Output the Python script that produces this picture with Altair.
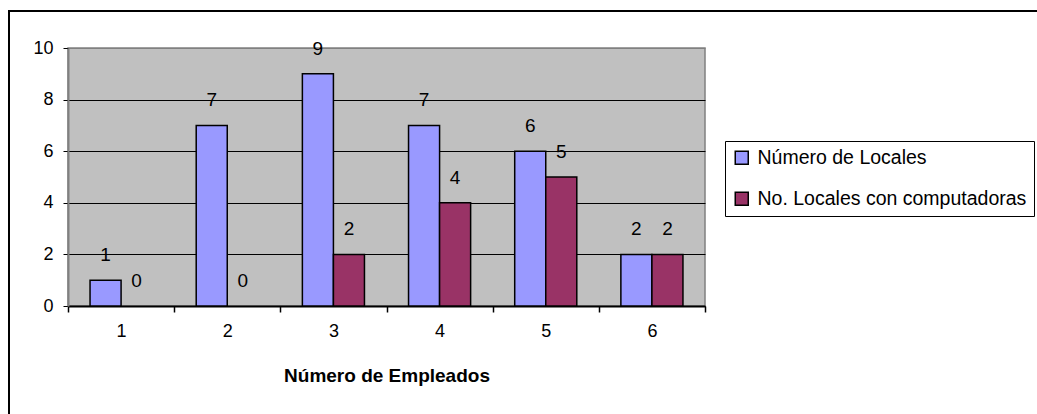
import altair as alt
import pandas as pd

categories = ["1", "2", "3", "4", "5", "6"]
series_names = ["Número de Locales", "No. Locales con computadoras"]
locales = [1, 7, 9, 7, 6, 2]
con_computadoras = [0, 0, 2, 4, 5, 2]
colors = ["#9999FF", "#993366"]
y_ticks = [0, 2, 4, 6, 8, 10]

rows = []
for c, a, b in zip(categories, locales, con_computadoras):
    rows.append({"cat": c, "serie": series_names[0], "valor": a})
    rows.append({"cat": c, "serie": series_names[1], "valor": b})
df = pd.DataFrame(rows)

FONT = "Liberation Sans"

x = alt.X(
    "cat:N",
    sort=categories,
    scale=alt.Scale(paddingInner=0, paddingOuter=0),
    axis=alt.Axis(
        title="Número de Empleados",
        labelAngle=0,
        tickBand="extent",
        labelFontSize=18,
        labelFont=FONT,
        labelColor="black",
        labelPadding=10,
        tickSize=6,
        tickColor="black",
        tickWidth=1.5,
        domainColor="black",
        domainWidth=2,
        titleFont=FONT,
        titleFontSize=19,
        titleFontWeight="bold",
        titleColor="black",
        titlePadding=26,
        grid=False,
    ),
)
xoff = alt.XOffset(
    "serie:N",
    sort=series_names,
    scale=alt.Scale(paddingInner=0, paddingOuter=0.71),
)
y = alt.Y(
    "valor:Q",
    scale=alt.Scale(domain=[0, 10], nice=False),
    axis=alt.Axis(
        title=None,
        values=y_ticks,
        labelFontSize=18,
        labelFont=FONT,
        labelColor="black",
        labelPadding=10,
        tickSize=5,
        tickColor="black",
        domainColor="#808080",
        domainWidth=2,
        grid=True,
        gridColor=alt.condition("datum.value == 10", alt.value("#808080"), alt.value("black")),
        gridWidth=1,
    ),
)
color = alt.Color(
    "serie:N",
    sort=series_names,
    scale=alt.Scale(domain=series_names, range=colors),
    legend=alt.Legend(
        title=None,
        orient="none",
        legendX=657,
        legendY=93,
        fillColor="white",
        strokeColor="black",
        padding=7,
        labelFont=FONT,
        labelFontSize=19.5,
        labelColor="black",
        labelLimit=1000,
        labelOffset=6,
        rowPadding=20,
        symbolType="square",
        symbolSize=169,
        symbolStrokeColor="black",
        symbolStrokeWidth=1.5,
        symbolOpacity=1,
    ),
)

bars = alt.Chart(df).mark_bar(stroke="black", strokeWidth=1.5, opacity=1).encode(
    x=x,
    xOffset=xoff,
    y=y,
    color=color,
    strokeOpacity=alt.condition("datum.valor == 0", alt.value(0), alt.value(1)),
)
labels = alt.Chart(df).mark_text(
    dy=-25, baseline="middle", align="center", font=FONT, fontSize=19, color="black"
).encode(x=x, xOffset=xoff, y=y, text="valor:Q")

border_left = alt.Chart(df).mark_rule(color="black", strokeWidth=2).encode(
    x=alt.value(-59), y=alt.value(-37), y2=alt.value(400)
)
border_top = alt.Chart(df).mark_rule(color="black", strokeWidth=2).encode(
    x=alt.value(-60), x2=alt.value(1000), y=alt.value(-37)
)

chart = alt.layer(bars, labels, border_left, border_top).properties(
    width=637,
    height=258,
    autosize=alt.AutoSizeParams(type="none"),
    padding={"left": 68, "top": 48, "right": 332, "bottom": 108},
    background="white",
).configure_view(fill="#C0C0C0", stroke="#808080", strokeWidth=1.5)

chart.save("out.html", embed_options={"renderer": "svg", "actions": False})
